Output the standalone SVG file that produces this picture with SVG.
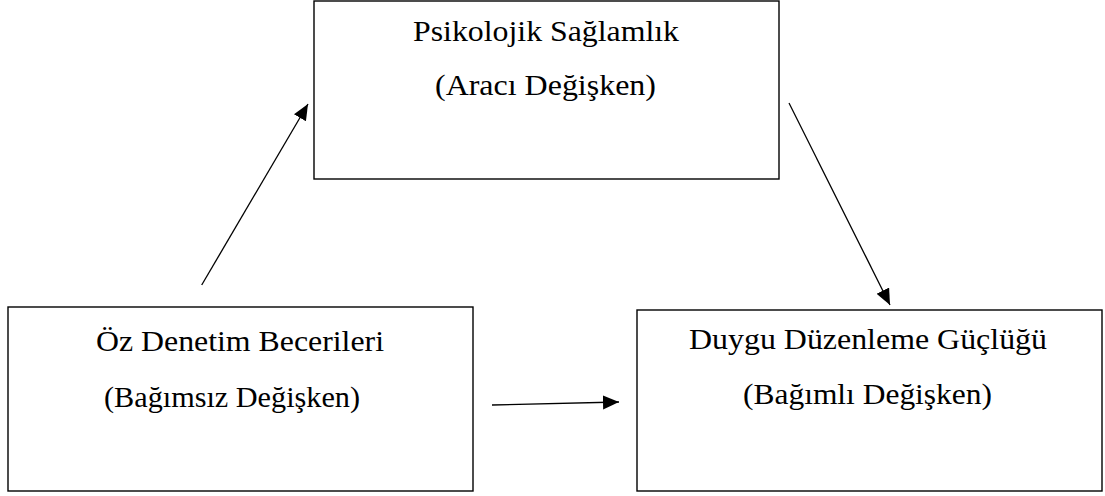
<svg xmlns="http://www.w3.org/2000/svg" width="1105" height="496" viewBox="0 0 1105 496">
  <style>
    .box { fill: #ffffff; stroke: #000000; stroke-width: 1.4; }
    .lbl { font-family: "Liberation Serif", "Times New Roman", serif; font-size: 30px; fill: #000000; }
    .conn { stroke: #000000; stroke-width: 1.3; fill: none; }
  </style>
  <defs>
    <marker id="arrow" markerUnits="userSpaceOnUse" markerWidth="18" markerHeight="15" refX="16" refY="7" orient="auto">
      <path d="M0,0 L16,7 L0,14 Z" fill="#000000"/>
    </marker>
  </defs>
  <rect width="1105" height="496" fill="#ffffff"/>
  <g id="node-psikolojik">
    <rect class="box" x="314" y="1" width="465" height="178"/>
    <text class="lbl" x="413" y="41" textLength="266" lengthAdjust="spacingAndGlyphs">Psikolojik Sağlamlık</text>
    <text class="lbl" x="435" y="95" textLength="221" lengthAdjust="spacingAndGlyphs">(Aracı Değişken)</text>
  </g>
  <g id="node-oz-denetim">
    <rect class="box" x="8" y="307" width="465" height="184"/>
    <text class="lbl" x="96" y="351" textLength="288" lengthAdjust="spacingAndGlyphs">Öz Denetim Becerileri</text>
    <text class="lbl" x="104" y="407" textLength="256" lengthAdjust="spacingAndGlyphs">(Bağımsız Değişken)</text>
  </g>
  <g id="node-duygu">
    <rect class="box" x="637" y="310" width="465" height="181"/>
    <text class="lbl" x="689" y="349" textLength="358" lengthAdjust="spacingAndGlyphs">Duygu Düzenleme Güçlüğü</text>
    <text class="lbl" x="743" y="404" textLength="249" lengthAdjust="spacingAndGlyphs">(Bağımlı Değişken)</text>
  </g>
  <g id="connectors">
    <line class="conn" x1="201.7" y1="285" x2="308" y2="104" marker-end="url(#arrow)"/>
    <line class="conn" x1="789" y1="103" x2="890" y2="305" marker-end="url(#arrow)"/>
    <line class="conn" x1="492" y1="405" x2="619" y2="402" marker-end="url(#arrow)"/>
  </g>
</svg>
